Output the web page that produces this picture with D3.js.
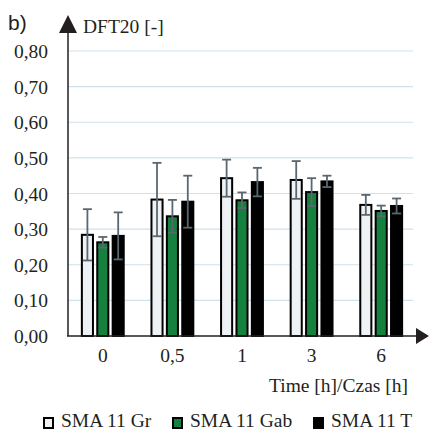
<!DOCTYPE html>
<html>
<head>
<meta charset="utf-8">
<script src="https://cdn.jsdelivr.net/npm/d3@7"></script>
<style>
  body { margin: 0; background: #fff; }
  svg text { font-family: "Liberation Serif", "DejaVu Serif", "Times New Roman", Times, serif; fill: #231f20; }
</style>
</head>
<body>
<div id="chart"></div>
<script>
const times = ["0", "0,5", "1", "3", "6"];
const series = ["SMA 11 Gr", "SMA 11 Gab", "SMA 11 T"];
const grMean = [0.284, 0.383, 0.443, 0.438, 0.368];
const grErr = [0.072, 0.103, 0.052, 0.053, 0.028];
const gabMean = [0.263, 0.336, 0.381, 0.404, 0.351];
const gabErr = [0.015, 0.046, 0.022, 0.039, 0.015];
const tMean = [0.281, 0.377, 0.432, 0.434, 0.365];
const tErr = [0.066, 0.073, 0.040, 0.016, 0.021];
const yTicks = [0, 0.1, 0.2, 0.3, 0.4, 0.5, 0.6, 0.7, 0.8];

const width = 429, height = 430;
const fills = ["#eef2f5", "#16803f", "#000000"];
const serif = "'Liberation Serif', 'DejaVu Serif', serif";
const fs = 19.5;

const means = [grMean, gabMean, tMean];
const errs = [grErr, gabErr, tErr];
const data = [];
times.forEach((t, i) => {
  series.forEach((s, j) => {
    data.push({ time: t, series: s, v: means[j][i], e: errs[j][i] });
  });
});

const svg = d3.select("#chart").append("svg")
  .attr("width", width)
  .attr("height", height);

const yScale = d3.scaleLinear().domain([0, 0.8]).range([336, 51]);

const xScale = d3.scaleBand()
  .domain(times)
  .range([68, 416])
  .paddingInner(0.37)
  .paddingOuter(0.185);

const x1 = d3.scaleBand()
  .domain(series)
  .range([0, xScale.bandwidth()])
  .paddingInner(0.15);

const color = d3.scaleOrdinal().domain(series).range(fills);

// gridlines
svg.append("g")
  .selectAll("line")
  .data(yTicks.slice(1))
  .join("line")
  .attr("x1", 68)
  .attr("x2", 413)
  .attr("y1", d => yScale(d))
  .attr("y2", d => yScale(d))
  .attr("stroke", "#cfe1ea")
  .attr("stroke-width", 1.2);

// y tick labels
const fmt = d => d3.format(".2f")(d).replace(".", ",");
svg.append("g")
  .selectAll("text")
  .data(yTicks)
  .join("text")
  .attr("x", 48)
  .attr("y", d => yScale(d))
  .attr("dy", "0.36em")
  .attr("text-anchor", "end")
  .attr("font-size", fs)
  .style("font-family", serif)
  .text(fmt);

// bars
svg.append("g")
  .selectAll("rect")
  .data(data)
  .join("rect")
  .attr("x", d => xScale(d.time) + x1(d.series) + 1)
  .attr("y", d => yScale(d.v))
  .attr("width", x1.bandwidth() - 2)
  .attr("height", d => yScale(0) - yScale(d.v))
  .attr("fill", d => color(d.series))
  .attr("stroke", "#000")
  .attr("stroke-width", 2);

// error bars
const eb = svg.append("g")
  .attr("stroke", "#5b6770")
  .attr("stroke-width", 1.8);
const cx = d => xScale(d.time) + x1(d.series) + x1.bandwidth() / 2;
eb.selectAll(".v").data(data).join("line")
  .attr("x1", cx).attr("x2", cx)
  .attr("y1", d => yScale(d.v + d.e))
  .attr("y2", d => yScale(d.v - d.e));
eb.selectAll(".t").data(data).join("line")
  .attr("x1", d => cx(d) - 4.5).attr("x2", d => cx(d) + 4.5)
  .attr("y1", d => yScale(d.v + d.e))
  .attr("y2", d => yScale(d.v + d.e));
eb.selectAll(".b").data(data).join("line")
  .attr("x1", d => cx(d) - 4.5).attr("x2", d => cx(d) + 4.5)
  .attr("y1", d => yScale(d.v - d.e))
  .attr("y2", d => yScale(d.v - d.e));

// axes with arrows
svg.append("line")
  .attr("x1", 68).attr("x2", 68)
  .attr("y1", 30).attr("y2", 336)
  .attr("stroke", "#231f20").attr("stroke-width", 1.5);
svg.append("path")
  .attr("d", "M68,15 L59,33 L77,33 Z")
  .attr("fill", "#231f20");
svg.append("line")
  .attr("x1", 67).attr("x2", 418)
  .attr("y1", 336).attr("y2", 336)
  .attr("stroke", "#231f20").attr("stroke-width", 1.5);
svg.append("path")
  .attr("d", "M429,336 L416,328 L416,344 Z")
  .attr("fill", "#231f20");

// x tick labels
svg.append("g")
  .selectAll("text")
  .data(times)
  .join("text")
  .attr("x", d => xScale(d) + xScale.bandwidth() / 2)
  .attr("y", 362)
  .attr("text-anchor", "middle")
  .attr("font-size", fs)
  .style("font-family", serif)
  .text(d => d);

// titles
svg.append("text")
  .attr("x", 408).attr("y", 392)
  .attr("text-anchor", "end")
  .attr("font-size", fs)
  .style("font-family", serif)
  .text("Time [h]/Czas [h]");

svg.append("text")
  .attr("x", 83).attr("y", 33)
  .attr("font-size", fs)
  .style("font-family", serif)
  .text("DFT20 [-]");

svg.append("text")
  .attr("x", 8).attr("y", 30)
  .attr("font-size", 21)
  .style("font-family", "'Liberation Sans', Arial, sans-serif")
  .text("b)");

// legend
const legX = [43, 172, 313];
const leg = svg.append("g")
  .selectAll("g")
  .data(series)
  .join("g")
  .attr("transform", (d, i) => `translate(${legX[i]}, 417)`);
leg.append("rect")
  .attr("x", 1).attr("y", 1)
  .attr("width", 9).attr("height", 10)
  .attr("fill", d => color(d))
  .attr("stroke", "#000")
  .attr("stroke-width", 2);
leg.append("text")
  .attr("x", 18).attr("y", 10)
  .attr("font-size", fs)
  .style("font-family", serif)
  .text(d => d);
</script>
</body>
</html>
